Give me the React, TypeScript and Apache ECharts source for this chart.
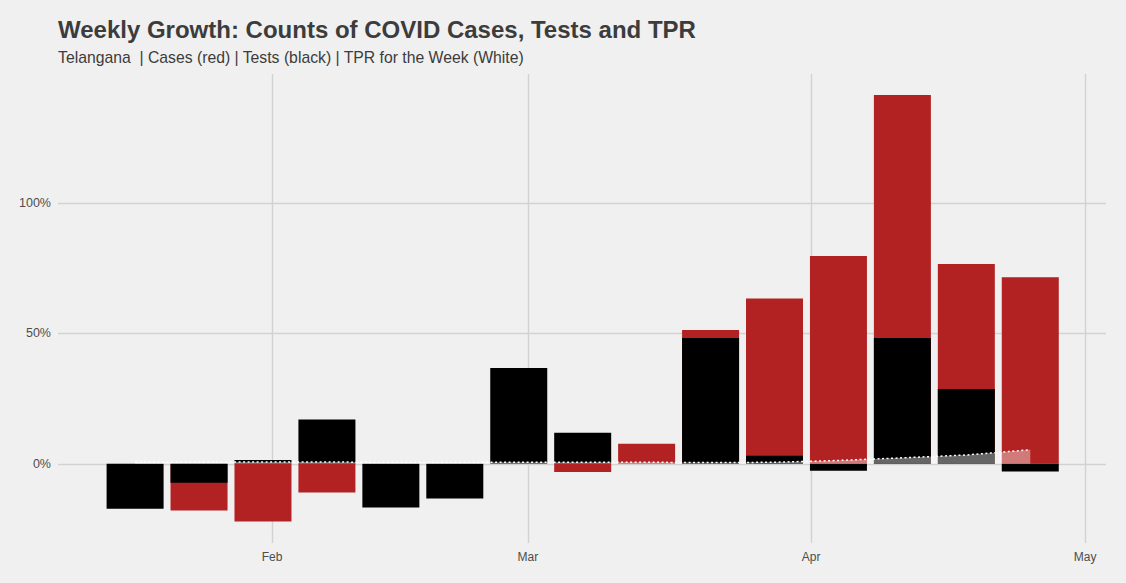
import React, { useEffect, useRef } from "react";
import * as echarts from "echarts";

// Week (centre date) of each bar
const weeks = [
  "2021-01-17", "2021-01-24", "2021-01-31", "2021-02-07", "2021-02-14",
  "2021-02-21", "2021-02-28", "2021-03-07", "2021-03-14", "2021-03-21",
  "2021-03-28", "2021-04-04", "2021-04-11", "2021-04-18", "2021-04-25",
];
// Weekly growth of cases (%), red (0 where hidden behind the black bar)
const casesGrowth = [0, -17.9, -22.1, -11.0, 0, 0, 0, -3.1, 7.7, 51.3, 63.4, 79.7, 141.4, 76.6, 71.6];
// Weekly growth of tests (%), black
const testsGrowth = [-17.2, -7.2, 1.5, 17.0, -16.7, -13.3, 36.8, 11.9, 0, 48.3, 3.1, -2.6, 48.3, 28.7, -2.9];
// Test positivity rate for the week (%), white
const tprWeek = [0.7, 0.7, 0.7, 0.7, 0.6, 0.6, 0.6, 0.6, 0.6, 0.5, 0.6, 1.3, 2.3, 3.4, 5.4];

const monthTicks = ["2021-02-01", "2021-03-01", "2021-04-01", "2021-05-01"];
const monthLabels = ["Feb", "Mar", "Apr", "May"];
const yTicks = [0, 50, 100];

const ORIGIN = Date.parse("2021-01-01");
const toDay = (s: string) => (Date.parse(s) - ORIGIN) / 86400000;

export default function App() {
  const ref = useRef<HTMLDivElement>(null);

  useEffect(() => {
    document.body.style.margin = "0";
    const chart = echarts.init(ref.current!, null, { renderer: "svg" });
    const xs = weeks.map(toDay);
    const monthDays = monthTicks.map(toDay);
    const font = "'Liberation Sans', Arial, Helvetica, sans-serif";

    chart.setOption({
      animation: false,
      backgroundColor: "#f0f0f0",
      title: {
        text: "Weekly Growth: Counts of COVID Cases, Tests and TPR",
        subtext: "Telangana  | Cases (red) | Tests (black) | TPR for the Week (White)",
        left: 58,
        top: 17,
        padding: 0,
        itemGap: 8,
        textStyle: { fontFamily: font, fontSize: 24, fontWeight: "bold", color: "#3c3c3c" },
        subtextStyle: { fontFamily: font, fontSize: 15.75, color: "#3c3c3c" },
      },
      grid: { left: 58, right: 20, top: 74, bottom: 40, containLabel: false },
      xAxis: {
        type: "value",
        min: 7.56,
        max: 122.29,
        axisLine: { show: false },
        axisTick: { show: false, customValues: monthDays },
        axisLabel: {
          customValues: monthDays,
          formatter: (v: number) => {
            const i = monthDays.findIndex((d) => Math.abs(d - v) < 0.5);
            return i >= 0 ? monthLabels[i] : "";
          },
          color: "#4d4d4d",
          fontFamily: font,
          fontSize: 12,
          margin: 8,
        },
        splitLine: { show: true, lineStyle: { color: "#d2d2d2", width: 1.4 } },
      },
      yAxis: {
        type: "value",
        min: -30.35,
        max: 149.5,
        axisLine: { show: false },
        axisTick: { show: false, customValues: yTicks },
        axisLabel: {
          customValues: yTicks,
          formatter: (v: number) => v + "%",
          color: "#4d4d4d",
          fontFamily: font,
          fontSize: 12.5,
          margin: 7,
        },
        splitLine: { show: true, lineStyle: { color: "#d2d2d2", width: 1.4 } },
      },
      series: [
        {
          name: "Cases",
          type: "bar",
          data: xs.map((x, i) => [x, casesGrowth[i]]),
          barWidth: 57,
          itemStyle: { color: "#b22222" },
          z: 2,
        },
        {
          name: "Tests",
          type: "bar",
          data: xs.map((x, i) => [x, testsGrowth[i]]),
          barWidth: 57,
          barGap: "-100%",
          itemStyle: { color: "#000000" },
          z: 3,
        },
        {
          name: "TPR",
          type: "line",
          data: xs.map((x, i) => [x, tprWeek[i]]),
          showSymbol: false,
          symbol: "none",
          lineStyle: { color: "#ffffff", width: 1.5, type: [2, 2.5] },
          areaStyle: { color: "#ffffff", opacity: 0.4 },
          z: 4,
        },
      ],
    });
    return () => chart.dispose();
  }, []);

  return <div ref={ref} style={{ width: 1126, height: 583 }} />;
}
